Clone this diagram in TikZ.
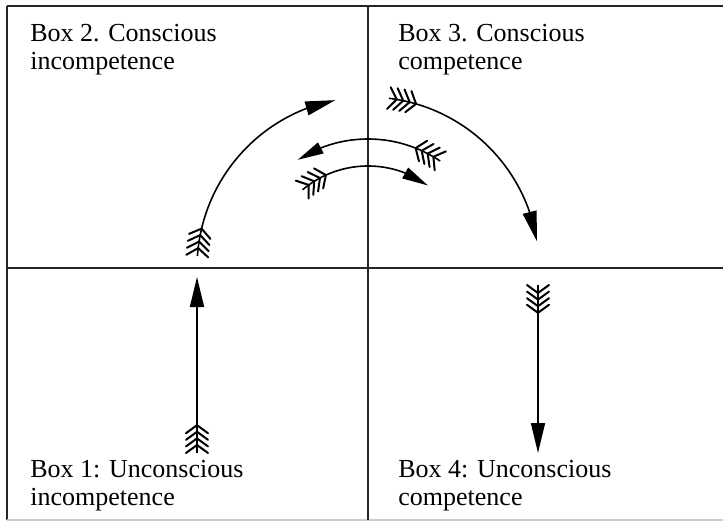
\documentclass[tikz,border=0pt]{standalone}
\usepackage{fontspec}
\setmainfont{Liberation Serif}
\usetikzlibrary{arrows.meta,bending,decorations.markings}

\begin{document}
\begin{tikzpicture}[
  x=0.5pt,y=0.5pt,
  boxlabel/.style={anchor=north west,inner sep=0pt,align=left,font=\fontsize{13}{14}\selectfont},
  border/.style={line width=1pt,color=black!85},
  divider/.style={line width=0.75pt,color=black!85},
  feather/.style={-,line width=1pt,line cap=round},
  fletched/.style={postaction={decorate,decoration={markings,
      mark=between positions 4pt and 14pt step 3.3pt with {\draw[feather] (-4pt,5.5pt) -- (0,0) -- (-4pt,-5.5pt);}}}},
  shaft/.style={line width=0.8pt,-{Triangle[length=15pt,width=7pt]},fletched}]
\useasboundingbox (0,0) rectangle (723,526);
% frame and quadrants
\coordinate (nw) at (7,520);
\coordinate (ne) at (723,520);
\coordinate (sw) at (7,6);
\coordinate (se) at (723,6);
\coordinate (ctr) at (368,258);
\draw[border,line width=1.3pt] (nw) -- (ne);
\draw[border] (nw) -- (sw);
\draw[line width=0.8pt,color=black!20] (sw) -- (se);
\draw[divider] (ctr |- nw) -- (ctr |- sw);
\draw[divider] (ctr -| sw) -- (ctr -| se);
% labels
\node[boxlabel] (box2) at (30,502) {Box 2. Conscious\\incompetence};
\node[boxlabel] (box3) at (398,502) {Box 3. Conscious\\competence};
\node[boxlabel] (box1) at (30,66) {Box 1: Unconscious\\incompetence};
\node[boxlabel] (box4) at (398,66) {Box 4: Unconscious\\competence};
% arrows
\coordinate (upTail) at (197,73);
\coordinate (upTip) at (197,249);
\coordinate (downTail) at (538,241);
\coordinate (downTip) at (538,73);
\draw[shaft] (upTail) -- (upTip);
\draw[shaft] (downTail) -- (downTip);
\draw[shaft] ([shift={(176:85.5pt)}]ctr) arc[start angle=176,end angle=101,radius=85.5pt];
\draw[shaft] ([shift={(83:85.5pt)}]ctr) arc[start angle=83,end angle=9,radius=85.5pt];
\draw[shaft,-{Triangle[length=13pt,width=6pt]}] ([shift={(56:64.5pt)}]ctr) arc[start angle=56,end angle=123,radius=64.5pt];
\draw[shaft,-{Triangle[length=13pt,width=6pt]}] ([shift={(130:51pt)}]ctr) arc[start angle=130,end angle=54,radius=51pt];
\end{tikzpicture}
\end{document}
